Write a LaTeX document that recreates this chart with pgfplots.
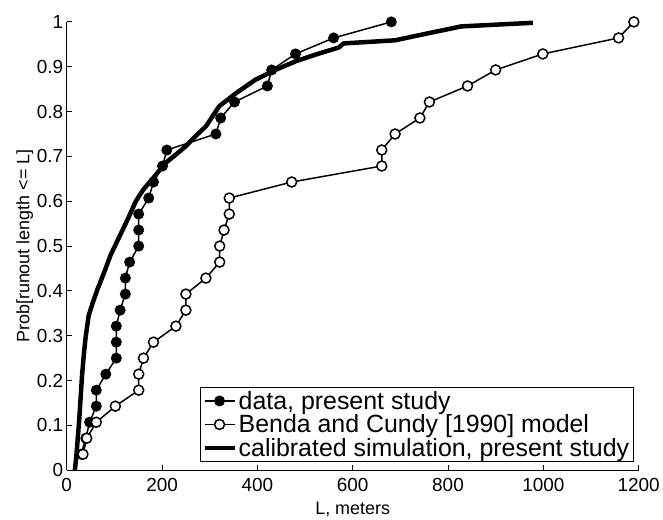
\documentclass[border=0pt]{standalone}
\usepackage{pgfplots}
\pgfplotsset{compat=1.18}
\usepackage{fontspec}
\setmainfont{Liberation Sans}
\begin{document}
\begin{tikzpicture}
\begin{axis}[
  width=574pt, height=450pt, scale only axis,
  xmin=0, xmax=1200, ymin=0, ymax=1,
  axis lines*=left,
  axis line style={line width=1.2pt},
  xtick={0,200,400,600,800,1000,1200},
  ytick={0,0.1,0.2,0.3,0.4,0.5,0.6,0.7,0.8,0.9,1},
  yticklabels={0,0.1,0.2,0.3,0.4,0.5,0.6,0.7,0.8,0.9,1},
  /pgf/number format/1000 sep={},
  tick align=inside, major tick length=5pt,
  tick style={black, line width=1pt},
  tick label style={font=\fontsize{19}{21}\selectfont},
  xticklabel style={yshift=-5pt},
  /pgf/number format/assume math mode=true,
  xlabel={L, meters},
  ylabel={Prob[runout length <= L]},
  label style={font=\fontsize{18}{20}\selectfont},
  xlabel style={yshift=-3pt},
  ylabel style={yshift=-3pt},
  legend cell align=left,
  legend style={at={(1,0)}, anchor=south east, xshift=-5pt, yshift=8pt,
    font=\fontsize{25}{26}\selectfont, draw=black, line width=1pt,
    inner sep=2pt, row sep=0pt},
  legend image code/.code={\draw[mark repeat=2,mark phase=2,#1] plot coordinates {(0pt,0pt) (15pt,0pt) (30pt,0pt)};},
  clip=false,
]
\addplot[black, line width=1.5pt, mark=*, mark size=5pt, mark options={fill=black, line width=1pt}] coordinates {
(30,0.0357) (40,0.0714) (48,0.1071) (62,0.1429) (62,0.1786) (82,0.2143) (104,0.25)
(104,0.2857) (104,0.3214) (112,0.3571) (123,0.3929) (123,0.4286) (132,0.4643) (151,0.5)
(151,0.5357) (151,0.5714) (172,0.6071) (182,0.6429) (201,0.6786) (210,0.7143) (313,0.75)
(323,0.7857) (352,0.8214) (421,0.8571) (430,0.8929) (480,0.9286) (560,0.9643) (681,1)
};
\addlegendentry{data, present study}
\addplot[black, line width=1.5pt, mark=*, mark size=5pt, mark options={fill=white, line width=1.5pt}] coordinates {
(34,0.0357) (42,0.0714) (62,0.1071) (102,0.1429) (151,0.1786) (151,0.2143) (161,0.25)
(182,0.2857) (229,0.3214) (250,0.3571) (250,0.3929) (292,0.4286) (321,0.4643) (321,0.5)
(330,0.5357) (341,0.5714) (341,0.6071) (472,0.6429) (661,0.6786) (661,0.7143) (689,0.75)
(741,0.7857) (761,0.8214) (841,0.8571) (900,0.8929) (999,0.9286) (1158,0.9643) (1190,1)
};
\addlegendentry{Benda and Cundy [1990] model}
\addplot[black, line width=4.5pt, line join=round] coordinates {
(17,0) (20,0.03) (23,0.07) (26,0.11) (29,0.16) (32,0.21) (36,0.26) (40,0.30) (46,0.345)
(55,0.375) (65,0.405) (78,0.44) (92,0.48) (110,0.52) (128,0.56) (145,0.60) (160,0.625)
(180,0.65) (208,0.686) (230,0.705) (250,0.723) (270,0.745) (292,0.767) (320,0.812)
(355,0.841) (396,0.871) (438,0.893) (480,0.912) (522,0.927) (571,0.943) (581,0.952)
(689,0.959) (760,0.975) (828,0.99) (978,0.998)
};
\addlegendentry{calibrated simulation, present study}
\coordinate (sw) at (rel axis cs:0,0);
\coordinate (ne) at (rel axis cs:1,1);
\end{axis}
\path ([shift={(-67pt,-43pt)}]sw) rectangle ([shift={(22pt,22pt)}]ne);
\end{tikzpicture}
\end{document}
